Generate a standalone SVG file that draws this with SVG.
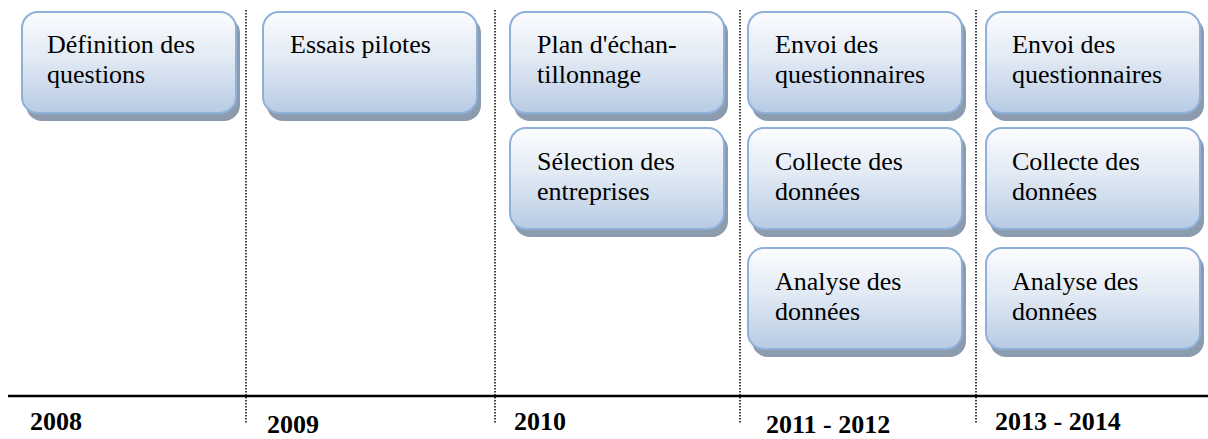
<svg xmlns="http://www.w3.org/2000/svg" width="1208" height="439" viewBox="0 0 1208 439">
<style>
.box{fill:url(#g);stroke:#8fb0d9;stroke-width:2}
.sh{fill:#8d9bae}
.t{font-family:"Liberation Serif","Times New Roman",serif;font-size:26px;fill:#000}
.y{font-family:"Liberation Serif","Times New Roman",serif;font-size:26px;font-weight:bold;fill:#000}
.dot{stroke:#000;stroke-width:1.5;stroke-dasharray:1.5 1.5;fill:none}
</style>
<defs>
<linearGradient id="g" x1="0" y1="0" x2="0" y2="1">
<stop offset="0" stop-color="#fbfcfe"/>
<stop offset="0.45" stop-color="#e2eaf4"/>
<stop offset="1" stop-color="#b7cbe4"/>
</linearGradient>
</defs>
<g id="axis">
<line x1="8" y1="396" x2="1208" y2="396" stroke="#000" stroke-width="2.5"/>
<line class="dot" x1="246" y1="10" x2="246" y2="424"/>
<line class="dot" x1="495" y1="10" x2="495" y2="424"/>
<line class="dot" x1="740" y1="10" x2="740" y2="424"/>
<line class="dot" x1="976" y1="10" x2="976" y2="424"/>
</g>
<g id="years">
<text class="y" x="30" y="430">2008</text>
<text class="y" x="267" y="433">2009</text>
<text class="y" x="514" y="430">2010</text>
<text class="y" x="766" y="433">2011 - 2012</text>
<text class="y" x="995" y="430">2013 - 2014</text>
</g>
<g id="n1"><rect class="sh" x="26" y="17" width="214" height="104" rx="16"/><rect class="box" x="22" y="12" width="214" height="101" rx="16"/><text class="t" x="47" y="53">Définition des</text><text class="t" x="47" y="83">questions</text></g>
<g id="n2"><rect class="sh" x="267" y="17" width="214" height="104" rx="16"/><rect class="box" x="263" y="12" width="214" height="101" rx="16"/><text class="t" x="290" y="53">Essais pilotes</text></g>
<g id="n3"><rect class="sh" x="514" y="17" width="214" height="104" rx="16"/><rect class="box" x="510" y="12" width="214" height="101" rx="16"/><text class="t" x="537" y="53">Plan d'échan-</text><text class="t" x="537" y="83">tillonnage</text></g>
<g id="n4"><rect class="sh" x="514" y="133" width="214" height="104" rx="16"/><rect class="box" x="510" y="128" width="214" height="101" rx="16"/><text class="t" x="537" y="170">Sélection des</text><text class="t" x="537" y="200">entreprises</text></g>
<g id="n5"><rect class="sh" x="752" y="17" width="214" height="104" rx="16"/><rect class="box" x="748" y="12" width="214" height="101" rx="16"/><text class="t" x="775" y="53">Envoi des</text><text class="t" x="775" y="83">questionnaires</text></g>
<g id="n6"><rect class="sh" x="752" y="133" width="214" height="104" rx="16"/><rect class="box" x="748" y="128" width="214" height="101" rx="16"/><text class="t" x="775" y="170">Collecte des</text><text class="t" x="775" y="200">données</text></g>
<g id="n7"><rect class="sh" x="752" y="253" width="214" height="104" rx="16"/><rect class="box" x="748" y="248" width="214" height="101" rx="16"/><text class="t" x="775" y="290">Analyse des</text><text class="t" x="775" y="320">données</text></g>
<g id="n8"><rect class="sh" x="990" y="17" width="214" height="104" rx="16"/><rect class="box" x="986" y="12" width="214" height="101" rx="16"/><text class="t" x="1012" y="53">Envoi des</text><text class="t" x="1012" y="83">questionnaires</text></g>
<g id="n9"><rect class="sh" x="990" y="133" width="214" height="104" rx="16"/><rect class="box" x="986" y="128" width="214" height="101" rx="16"/><text class="t" x="1012" y="170">Collecte des</text><text class="t" x="1012" y="200">données</text></g>
<g id="n10"><rect class="sh" x="990" y="253" width="214" height="104" rx="16"/><rect class="box" x="986" y="248" width="214" height="101" rx="16"/><text class="t" x="1012" y="290">Analyse des</text><text class="t" x="1012" y="320">données</text></g>
</svg>
